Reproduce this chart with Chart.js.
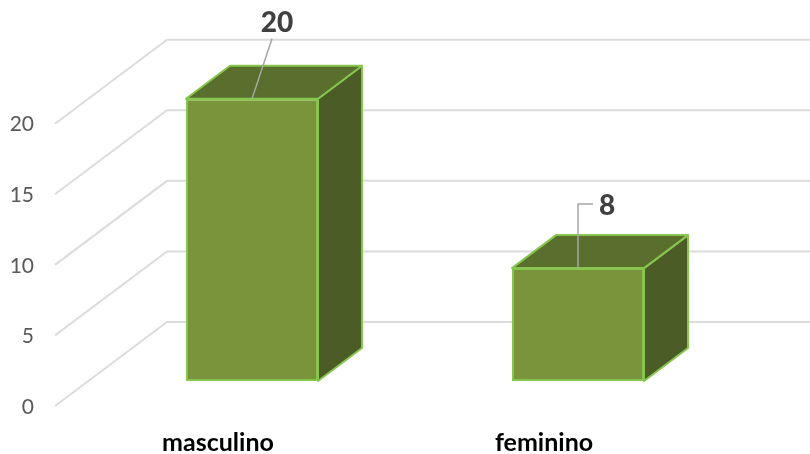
<!DOCTYPE html>
<html><head><meta charset="utf-8">
<style>html,body{margin:0;padding:0;background:#fff}#w{width:810px;height:454px;position:relative}</style>
<script src="https://cdn.jsdelivr.net/npm/chart.js@4"></script></head>
<body><div id="w"><canvas id="c" width="810" height="454"></canvas></div>
<script>
const categories = ["masculino", "feminino"];
const values = [20, 8];
const yTicks = [0, 5, 10, 15, 20];

const FONT = "Lato, Carlito, 'Open Sans', sans-serif";
const wall = {dx: 112, dy: -84};
const plane = {dx: 34, dy: -25};
const depth = {dx: 44, dy: -33};
const leaders = [
  {pts: [[0, 0], [20, -60]], lx: 25, ly: -76},
  {pts: [[0, 0], [0, -64], [15, -64]], lx: 29, ly: -62}
];

const bar3d = {
  id: 'bar3d',
  beforeDatasetsDraw(chart) {
    const {ctx, scales: {y}} = chart;
    ctx.save();
    ctx.strokeStyle = '#dcdcdc';
    ctx.lineWidth = 2;
    yTicks.forEach(v => {
      const p = y.getPixelForValue(v);
      ctx.beginPath();
      ctx.moveTo(chart.chartArea.left, p);
      ctx.lineTo(chart.chartArea.left + wall.dx, p + wall.dy);
      ctx.lineTo(chart.width, p + wall.dy);
      ctx.stroke();
    });
    ctx.restore();
    ctx.save();
    ctx.translate(plane.dx, plane.dy);
    ctx.lineJoin = 'round';
    chart.getDatasetMeta(0).data.forEach(b => {
      const l = b.x - b.width / 2, r = b.x + b.width / 2, t = b.y, bot = b.base;
      ctx.strokeStyle = '#86c64e';
      ctx.lineWidth = 2;
      ctx.fillStyle = '#4c5c26';
      ctx.beginPath();
      ctx.moveTo(r, t); ctx.lineTo(r + depth.dx, t + depth.dy);
      ctx.lineTo(r + depth.dx, bot + depth.dy); ctx.lineTo(r, bot);
      ctx.closePath(); ctx.fill(); ctx.stroke();
      ctx.fillStyle = '#5a6e2d';
      ctx.beginPath();
      ctx.moveTo(l, t); ctx.lineTo(l + depth.dx, t + depth.dy);
      ctx.lineTo(r + depth.dx, t + depth.dy); ctx.lineTo(r, t);
      ctx.closePath(); ctx.fill(); ctx.stroke();
    });
  },
  afterDatasetsDraw(chart) {
    const {ctx} = chart;
    chart.getDatasetMeta(0).data.forEach((b, i) => {
      const ld = leaders[i];
      ctx.strokeStyle = '#a6a6a6';
      ctx.lineWidth = 1.5;
      ctx.beginPath();
      ld.pts.forEach((q, k) => {
        if (k) ctx.lineTo(b.x + q[0], b.y + q[1]); else ctx.moveTo(b.x + q[0], b.y + q[1]);
      });
      ctx.stroke();
      ctx.fillStyle = '#404040';
      ctx.font = '900 28px ' + FONT;
      ctx.textAlign = 'center';
      ctx.textBaseline = 'middle';
      ctx.fillText(String(values[i]), b.x + ld.lx, b.y + ld.ly);
    });
    ctx.restore();
  }
};

new Chart(document.getElementById('c'), {
  type: 'bar',
  data: {
    labels: categories,
    datasets: [{
      data: values,
      backgroundColor: '#7a943c',
      borderColor: '#86c64e',
      borderWidth: 2,
      borderSkipped: false,
      barPercentage: 0.81,
      categoryPercentage: 0.5
    }]
  },
  plugins: [bar3d],
  options: {
    responsive: false,
    animation: false,
    devicePixelRatio: 1,
    layout: {padding: {top: 39, right: 103, left: 0, bottom: 0}},
    plugins: {legend: {display: false}, tooltip: {enabled: false}},
    datasets: {bar: {clip: false}},
    scales: {
      x: {
        afterFit(s) { s.height = 48; },
        grid: {display: false, drawTicks: false},
        border: {display: false},
        ticks: {color: '#000', font: {family: FONT, size: 25, weight: 'bold'}, padding: 22, maxRotation: 0}
      },
      y: {
        min: 0, max: 26,
        afterFit(s) { s.width = 55; },
        afterBuildTicks(s) { s.ticks = yTicks.map(v => ({value: v})); },
        grid: {display: false, drawTicks: false},
        border: {display: false},
        ticks: {color: '#595959', font: {family: FONT, size: 21}, padding: 21, labelOffset: 1}
      }
    }
  }
});
</script></body></html>
